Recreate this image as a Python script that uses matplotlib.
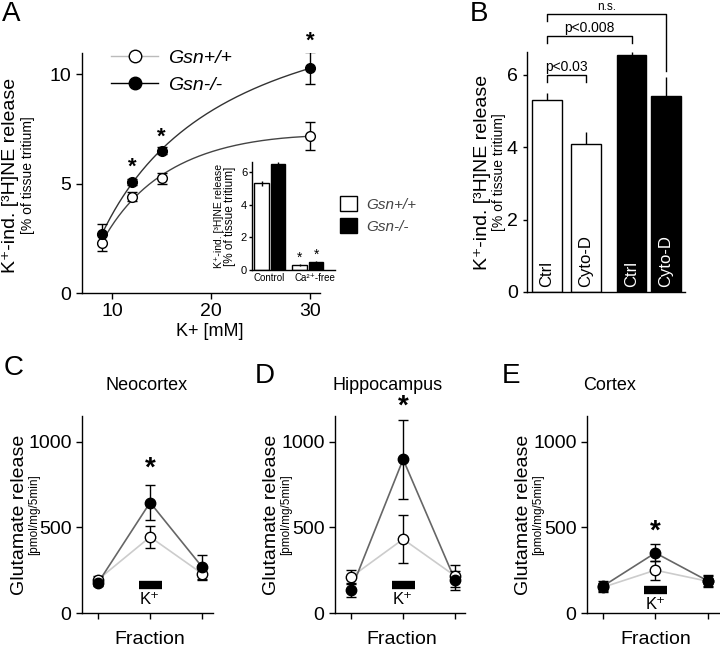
import numpy as np
import matplotlib
matplotlib.use('Agg')
import matplotlib.pyplot as plt
from matplotlib.lines import Line2D
from matplotlib.patches import Patch

plt.rcParams['font.family'] = ['Liberation Sans', 'DejaVu Sans']
plt.rcParams['axes.linewidth'] = 1.0
plt.rcParams['xtick.major.width'] = 1.0
plt.rcParams['ytick.major.width'] = 1.0

# ---- panel A: K+ concentration response ----
k_conc = [9, 12, 15, 30]
a_wt = [2.28, 4.4, 5.25, 7.17]
a_wt_err = [0.35, 0.2, 0.25, 0.65]
a_ko = [2.68, 5.07, 6.5, 10.27]
a_ko_err = [0.45, 0.15, 0.15, 0.73]
a_star_x = [12, 15, 30]
a_star_y = [5.75, 7.1, 11.5]

# inset: control vs Ca2+-free
inset_groups = ['Control', 'Ca²⁺-free']
inset_wt = [5.3, 0.3]
inset_wt_err = [0.15, 0.08]
inset_ko = [6.5, 0.5]
inset_ko_err = [0.1, 0.05]

# ---- panel B: cytochalasin D ----
b_labels = ['Ctrl', 'Cyto-D', 'Ctrl', 'Cyto-D']
b_vals = [5.3, 4.1, 6.54, 5.42]
b_err = [0.2, 0.32, 0.09, 0.51]
b_colors = ['white', 'white', 'black', 'black']

# ---- panels C-E: glutamate release per fraction ----
fractions = [1, 2, 3]
regions = ['Neocortex', 'Hippocampus', 'Cortex']
glu_ko = [[177, 645, 269], [136, 897, 191], [156, 351, 187]]
glu_ko_err = [[20, 105, 72], [40, 230, 55], [30, 50, 35]]
glu_wt = [[195, 444, 230], [210, 431, 216], [150, 250, 185]]
glu_wt_err = [[20, 65, 40], [43, 140, 62], [25, 55, 30]]
glu_star = [844, 1205, 474]
k_pulse = (1.78, 2.22)
k_pulse_y = [162, 162, 136]

W, H = 720, 650
fig = plt.figure(figsize=(7.2, 6.5), dpi=100)


def px_axes(l, t, r, b):
    return fig.add_axes([l / W, 1 - b / H, (r - l) / W, (b - t) / H])


def clean(ax):
    ax.spines['top'].set_visible(False)
    ax.spines['right'].set_visible(False)


# ===== A =====
axA = px_axes(82, 53, 320, 293)
clean(axA)
for vals, col in [(a_wt, '#444444'), (a_ko, '#333333')]:
    coef = np.polyfit(np.log(k_conc), vals, 2)
    xx = np.linspace(k_conc[0], k_conc[-1], 200)
    axA.plot(xx, np.polyval(coef, np.log(xx)), color=col, lw=1.0, zorder=1)
axA.errorbar(k_conc, a_wt, yerr=a_wt_err, fmt='o', mfc='white', mec='black',
             ecolor='black', ms=7, capsize=3.5, elinewidth=1, zorder=3)
axA.errorbar(k_conc, a_ko, yerr=a_ko_err, fmt='o', mfc='black', mec='black',
             ecolor='black', ms=7, capsize=3.5, elinewidth=1, zorder=3)
for x, y in zip(a_star_x, a_star_y):
    axA.text(x, y, '*', ha='center', va='center', fontsize=16, fontweight='bold')
axA.set_xlim(6.97, 31)
axA.set_ylim(0, 10.96)
axA.set_xticks([10, 20, 30])
axA.set_yticks([0, 5, 10])
axA.tick_params(labelsize=14, length=4)
fig.text(210 / W, 1 - 331 / H, 'K+ [mM]', ha='center', va='center', fontsize=13)
leg_h = [Line2D([], [], color='#bbbbbb', marker='o', mfc='white', mec='black', ms=9, lw=1),
         Line2D([], [], color='black', marker='o', mfc='black', mec='black', ms=9, lw=1)]
axA.legend(leg_h, ['Gsn+/+', 'Gsn-/-'], loc='upper left', bbox_to_anchor=(0.05, 1.09),
           frameon=False, handlelength=2.4, prop={'style': 'italic', 'size': 14},
           labelspacing=0.5, handletextpad=0.5)

# inset
axI = px_axes(252, 162, 335, 270)
clean(axI)
xi = np.array([0.0, 2.3])
axI.bar(xi, inset_wt, 0.9, yerr=inset_wt_err, color='white', edgecolor='black',
        lw=1, error_kw=dict(lw=1, capsize=0))
axI.bar(xi + 1.0, inset_ko, 0.9, yerr=inset_ko_err, color='black', edgecolor='black',
        lw=1, error_kw=dict(lw=1, capsize=0))
for xpos, v in zip([xi[1], xi[1] + 1.0], [inset_wt[1], inset_ko[1]]):
    axI.text(xpos, v + 0.45, '*', ha='center', va='center', fontsize=10)
axI.set_xlim(-0.58, 4.45)
axI.set_ylim(0, 6.6)
axI.set_yticks([0, 2, 4, 6])
axI.set_xticks([0.45, 3.25])
axI.set_xticklabels(inset_groups)
axI.tick_params(axis='x', length=0, labelsize=7, pad=2)
axI.tick_params(axis='y', length=2.5, labelsize=8, pad=1)
fig.text(219 / W, 1 - 216 / H, 'K⁺-ind. [³H]NE release', rotation=90,
         ha='center', va='center', fontsize=7.5)
fig.text(230 / W, 1 - 216 / H, '[% of tissue tritium]', rotation=90,
         ha='center', va='center', fontsize=8.5)

fig.legend([Patch(facecolor='white', edgecolor='black'), Patch(facecolor='black', edgecolor='black')],
           ['Gsn+/+', 'Gsn-/-'], loc='center left', bbox_to_anchor=(340 / W, 1 - 215 / H),
           frameon=False, borderpad=0, borderaxespad=0, handlelength=1.1, handleheight=1.1,
           labelspacing=0.45, handletextpad=0.6, prop={'style': 'italic', 'size': 11},
           labelcolor='#444444')

fig.text(11 / W, 1 - 175 / H, 'K⁺-ind. [³H]NE release', rotation=90,
         ha='center', va='center', fontsize=14)
fig.text(28 / W, 1 - 175 / H, '[% of tissue tritium]', rotation=90,
         ha='center', va='center', fontsize=10)

# ===== B =====
axB = px_axes(527, 52, 685, 292)
clean(axB)
xb = np.array([0.0, 1.3, 2.82, 3.97])
axB.bar(xb, b_vals, 0.98, color=b_colors, edgecolor='black', lw=1)
axB.errorbar(xb, b_vals, yerr=[np.zeros(4), b_err], fmt='none', ecolor='black',
             elinewidth=1, capsize=0)
for x, lab, c in zip(xb, b_labels, b_colors):
    axB.text(x, 0.15, lab, rotation=90, ha='center', va='bottom', fontsize=12,
             color='black' if c == 'white' else 'white')
axB.set_xlim(-0.67, 4.6)
axB.set_ylim(0, 6.63)
axB.set_yticks([0, 2, 4, 6])
axB.set_xticks([])
axB.tick_params(labelsize=14, length=3)
# significance brackets
brackets = [(xb[0], xb[1], 6.0, 5.8, 5.8, 'p<0.03'),
            (xb[0], xb[2], 7.07, 6.88, 6.88, 'p<0.008'),
            (xb[0], xb[3], 7.68, 7.5, 6.1, 'n.s.')]
for x0, x1, yt, yl, yr, lab in brackets:
    axB.plot([x0, x0, x1, x1], [yl, yt, yt, yr], color='black', lw=1, clip_on=False)
    axB.text((x0 + x1) / 2, yt + 0.03, lab, ha='center', va='bottom',
             fontsize=8.5 if lab == 'n.s.' else 10)
fig.text(483 / W, 1 - 172 / H, 'K⁺-ind. [³H]NE release', rotation=90,
         ha='center', va='center', fontsize=14)
fig.text(499 / W, 1 - 172 / H, '[% of tissue tritium]', rotation=90,
         ha='center', va='center', fontsize=10)

# ===== C, D, E =====
boxes = [(82, 213, 0.69, 3.21), (335, 465, 0.69, 3.19), (587, 720, 0.70, 3.23)]
title_x = [147, 388, 610]
ylab_x = [(20, 34), (272, 286), (524, 538)]
for i in range(3):
    l, r, x0, x1 = boxes[i]
    ax = px_axes(l, 416, r, 613)
    clean(ax)
    ax.plot(fractions, glu_wt[i], color='#cccccc', lw=1.2, zorder=1)
    ax.plot(fractions, glu_ko[i], color='#666666', lw=1.2, zorder=1)
    ax.errorbar(fractions, glu_wt[i], yerr=glu_wt_err[i], fmt='o', mfc='white', mec='black',
                ecolor='black', ms=7.5, capsize=3.5, elinewidth=1, zorder=3)
    ax.errorbar(fractions, glu_ko[i], yerr=glu_ko_err[i], fmt='o', mfc='black', mec='black',
                ecolor='black', ms=7.5, capsize=3.5, elinewidth=1, zorder=3)
    ax.plot(k_pulse, [k_pulse_y[i]] * 2, color='black', lw=6, solid_capstyle='butt')
    ax.text(2, k_pulse_y[i] - 40, 'K⁺', ha='center', va='top', fontsize=12)
    ax.text(2, glu_star[i], '*', ha='center', va='center', fontsize=20,
            fontweight='bold', clip_on=False)
    ax.set_xlim(x0, x1)
    ax.set_ylim(0, 1150)
    ax.set_xticks(fractions)
    ax.set_xticklabels([])
    ax.set_yticks([0, 500, 1000])
    ax.tick_params(labelsize=14, length=4)
    fig.text((l + r) / 2 / W + 0.003, 1 - 640 / H, 'Fraction', ha='center', va='center', fontsize=14)
    fig.text(title_x[i] / W, 1 - 385 / H, regions[i], ha='center', va='center', fontsize=13)
    fig.text(ylab_x[i][0] / W, 1 - 515 / H, 'Glutamate release', rotation=90,
             ha='center', va='center', fontsize=14)
    fig.text(ylab_x[i][1] / W, 1 - 515 / H, '[pmol/mg/5min]', rotation=90,
             ha='center', va='center', fontsize=8.5)

# panel letters
for lab, x, y in [('A', 2, 14), ('B', 470, 14), ('C', 4, 368), ('D', 255, 376), ('E', 502, 376)]:
    fig.text(x / W, 1 - y / H, lab, ha='left', va='center', fontsize=20)

fig.savefig('out.png', dpi=100)
